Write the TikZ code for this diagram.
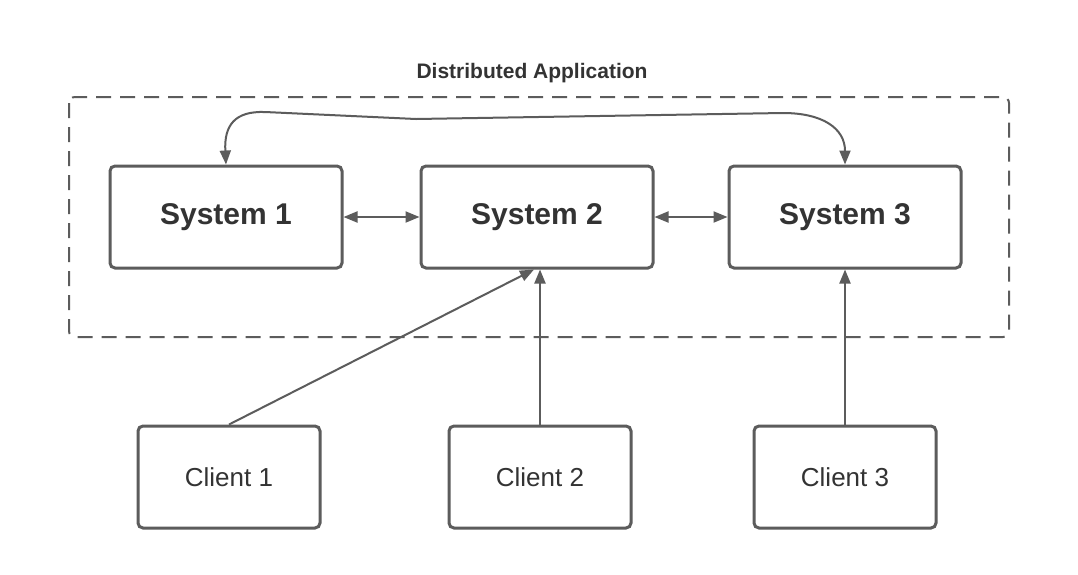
\documentclass[tikz,border=0pt]{standalone}
\usepackage{fontspec}
\setmainfont{Liberation Sans}
\usetikzlibrary{arrows.meta,calc}
\definecolor{lin}{HTML}{5C5C5C}
\definecolor{txt}{HTML}{333333}
\begin{document}
\begin{tikzpicture}[x=1pt,y=-1pt,
  sysbox/.style={draw=lin,line width=3pt,rounded corners=5pt,minimum width=232pt,minimum height=102pt,inner sep=0pt,text=txt,font=\fontsize{30}{34}\selectfont\bfseries},
  clibox/.style={draw=lin,line width=3pt,rounded corners=5pt,minimum width=182pt,minimum height=102pt,inner sep=0pt,text=txt,font=\fontsize{26}{30}\selectfont},
  conn/.style={draw=lin,line width=2pt,-{Triangle[length=14pt,width=11pt]}},
  biconn/.style={draw=lin,line width=2pt,{Triangle[length=14pt,width=11pt]}-{Triangle[length=14pt,width=11pt]}},
  groupbox/.style={draw=lin,line width=2pt,dash pattern=on 15pt off 9pt,rounded corners=6pt}]
\useasboundingbox (0,0) rectangle (1078,574);
\fill[white] (0,0) rectangle (1078,574);
\draw[groupbox] (69,97) rectangle (1009,337);
\node[text=txt,font=\fontsize{21}{24}\selectfont\bfseries] (title) at (532,73) {Distributed Application};
\node[sysbox] (s1) at (226,217) {System 1};
\node[sysbox] (s2) at (537,217) {System 2};
\node[sysbox] (s3) at (845,217) {System 3};
\node[clibox] (c1) at (229,477) {Client 1};
\node[clibox] (c2) at (540,477) {Client 2};
\node[clibox] (c3) at (845,477) {Client 3};
\draw[biconn] (s1.east) -- (s2.west);
\draw[biconn] (s2.east) -- (s3.west);
\draw[biconn] (s1.north) .. controls (224,125) and (235,111) .. (265,112) -- (416,119) -- (783,113) .. controls (822,113) and (845,128) .. (s3.north);
\draw[conn] (c1.north) -- ($(s2.south)+(-3,0)$);
\draw[conn] (c2.north) -- (c2.north |- s2.south);
\draw[conn] (c3.north) -- (s3.south);
\end{tikzpicture}
\end{document}
